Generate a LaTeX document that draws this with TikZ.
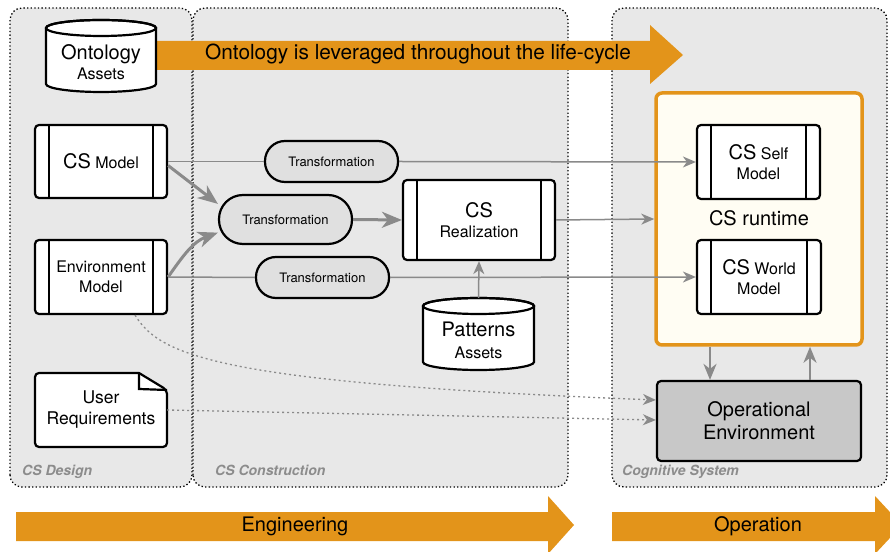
\documentclass[tikz,border=0pt]{standalone}
\usepackage{fontspec}
\setmainfont{TeX Gyre Heros}
\usetikzlibrary{arrows.meta}
\definecolor{panelgray}{HTML}{E8E8E8}
\definecolor{transgray}{HTML}{E0E0E0}
\definecolor{opgray}{HTML}{C8C8C8}
\definecolor{connGray}{HTML}{8A8A8A}
\definecolor{labelGray}{HTML}{8C8C8C}
\definecolor{lifeOrange}{HTML}{E3941A}
\definecolor{runtimeFill}{HTML}{FFFDF3}
\newcommand\szA{\fontsize{20}{23}\selectfont}
\newcommand\szB{\fontsize{16}{20}\selectfont}
\newcommand\szC{\fontsize{13}{15}\selectfont}
\newcommand\szU{\fontsize{17.5}{21}\selectfont}
\newcommand\drawcyl[4]{%
  \draw[line width=2.2pt, fill=white] (#1-#4,#2) -- (#1-#4,#3)
    arc[start angle=180,end angle=360,x radius=#4,y radius=8] -- (#1+#4,#2)
    arc[start angle=0,end angle=180,x radius=#4,y radius=8] -- cycle;
  \draw[line width=2.2pt] (#1,#2) ellipse[x radius=#4, y radius=8];}
\tikzset{
  panel/.style={draw=black, fill=panelgray, rounded corners=12pt, line width=1.3pt, dash pattern=on 1.3pt off 2.3pt},
  plabel/.style={font=\fontsize{14}{16}\selectfont\bfseries\itshape, text=labelGray, inner sep=0pt},
  procbox/.style={draw, line width=2.2pt, fill=white, rounded corners=4pt, align=center, inner sep=0pt, font=\szB,
    path picture={
      \draw[line width=2.2pt] ([xshift=14pt]path picture bounding box.north west) -- ([xshift=14pt]path picture bounding box.south west);
      \draw[line width=2.2pt] ([xshift=-14pt]path picture bounding box.north east) -- ([xshift=-14pt]path picture bounding box.south east);}},
  transbox/.style={draw, line width=2.2pt, fill=transgray, rounded corners=20pt, minimum width=133pt, minimum height=41pt, font=\szC, inner sep=0pt},
  thinline/.style={draw=connGray, line width=1.5pt},
  thinarrow/.style={draw=connGray, line width=1.5pt, -{Stealth[length=13pt,width=11pt,inset=4pt]}, color=connGray},
  thickarrow/.style={draw=connGray, line width=3pt, -{Stealth[length=20pt,width=16pt,inset=6pt]}, color=connGray},
  medarrow/.style={draw=connGray, line width=2.5pt, -{Stealth[length=16pt,width=13pt,inset=5pt]}, color=connGray},
  dotarrow/.style={draw=connGray, line width=1.3pt, dash pattern=on 2pt off 3pt, -{Stealth[length=13pt,width=11pt,inset=4pt]}, color=connGray},
  bigarrow/.style={fill=lifeOrange}
}
\begin{document}
\begin{tikzpicture}[x=1pt,y=1pt]
\useasboundingbox (0,0) rectangle (890,551);
% panels
\path[panel] (10,64) rectangle (192,543);
\path[panel] (193,64) rectangle (568,543);
\path[panel] (612,64) rectangle (887,543);
\node[plabel, anchor=base west] (ldesign) at (22,75) {CS Design};
\node[plabel, anchor=base west] (lcons) at (215,75) {CS Construction};
\node[plabel, anchor=base west] (lcog) at (622,75) {Cognitive System};
% top orange arrow
\path[bigarrow] (150,510) -- (650,510) -- (650,526) -- (683,496) -- (650,467) -- (650,481) -- (150,481) -- cycle;
\node[font=\fontsize{20.8}{24}\selectfont] (lifecycle) at (418,497) {Ontology is leveraged throughout the life-cycle};
% ontology cylinder
\drawcyl{101}{523}{467}{55}
\node[align=center, inner sep=0pt, font=\fontsize{16}{20}\selectfont] (ont) at (101,489) {{\szA Ontology}\\Assets};
% patterns cylinder
\drawcyl{478.5}{245}{189}{55.5}
\node[minimum width=111pt, minimum height=72pt, inner sep=0pt] (pat) at (478.5,217) {};
\node[align=center, inner sep=0pt, font=\fontsize{16}{22}\selectfont] (pattxt) at (478.5,211) {{\szA Patterns}\\Assets};
% process boxes
\node[procbox, minimum width=132pt, minimum height=73pt] (csmodel) at (101,389.5) {{\szA CS} Model};
\node[procbox, minimum width=132pt, minimum height=74pt] (envmodel) at (101,274) {Environment\\Model};
\node[procbox, minimum width=152pt, minimum height=80pt] (csreal) at (479,331) {{\szA CS}\\Realization};
% user requirements document
\draw[line width=2.2pt, fill=white] (139,178) [rounded corners=4pt] -- (35,178) -- (35,104) -- (167,104) -- (167,161) [sharp corners] -- cycle;
\draw[line width=2.2pt] (139,178) -- (139,162) -- (167,161);
\node[minimum width=132pt, minimum height=74pt, align=center, font=\szU, inner sep=0pt] (ureq) at (101,141) {User\\Requirements};
% transformations
\node[transbox] (ttop) at (331.5,389.5) {Transformation};
\node[transbox, minimum height=49pt, rounded corners=24pt] (tmid) at (285.5,331.5) {Transformation};
\node[transbox] (tbot) at (322.5,273.5) {Transformation};
% runtime
\node[draw=lifeOrange, line width=3.5pt, fill=runtimeFill, rounded corners=6pt, minimum width=206pt, minimum height=252pt] (rt) at (759,332) {};
\node[procbox, minimum width=123pt, minimum height=74pt] (self) at (758.5,389) {{\szA CS} Self\\Model};
\node[font=\szA] (rtlabel) at (759,333) {CS runtime};
\node[procbox, minimum width=124pt, minimum height=74pt] (world) at (759,274) {{\szA CS} World\\Model};
\node[draw, line width=2.2pt, fill=opgray, rounded corners=4pt, minimum width=204pt, minimum height=80pt, align=center, font=\szA, inner sep=0pt] (openv) at (759,130) {Operational\\Environment};
% connectors
\draw[thinline] (csmodel.east) -- (ttop.west);
\draw[thinarrow] (ttop.east) -- (self.west);
\draw[thickarrow] ([yshift=-4pt]csmodel.east) -- (tmid.167);
\draw[thickarrow] (envmodel.east) to[out=55,in=200] (tmid.191);
\draw[thinline] (envmodel.east) -- (tbot.west);
\draw[thinarrow] (tbot.east) -- (world.west);
\draw[thickarrow] (tmid.east) -- (csreal.west);
\draw[thinarrow] (csreal.east) -- (rt.west);
\draw[thinarrow] (pat.north) -- (csreal.south);
\draw[medarrow] ([xshift=-49pt]rt.south) -- ([xshift=-49pt]openv.north);
\draw[medarrow] ([xshift=51pt]openv.north) -- ([xshift=51pt]rt.south);
\draw[dotarrow] ([xshift=34pt]envmodel.south) .. controls (160,195) and (220,168) .. ([yshift=21pt]openv.west);
\draw[dotarrow] (ureq.east) -- ([yshift=1pt]openv.west);
% bottom arrows
\path[bigarrow] (16,39) -- (548,39) -- (548,55) -- (574,26) -- (548,-3) -- (548,10) -- (16,10) -- cycle;
\node[font=\szA] (eng) at (295,25) {Engineering};
\path[bigarrow] (612,39) -- (875,39) -- (875,55) -- (902,26) -- (875,-3) -- (875,10) -- (612,10) -- cycle;
\node[font=\szA] (oper) at (758,25) {Operation};
\end{tikzpicture}
\end{document}
